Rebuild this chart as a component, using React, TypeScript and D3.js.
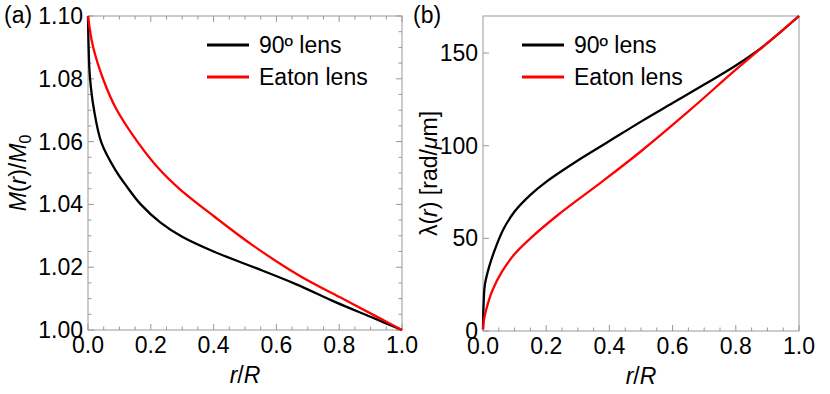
import React, { useEffect, useRef } from "react";
import * as d3 from "d3";

// x ticks shared by both panels
const rTicks = [0, 0.2, 0.4, 0.6, 0.8, 1.0];
const mTicks = [1.0, 1.02, 1.04, 1.06, 1.08, 1.1];
const lambdaTicks = [0, 50, 100, 150];

// panel (a): M(r)/M0
const mLens90R = [0, 0.002, 0.006, 0.019, 0.043, 0.087, 0.125, 0.168, 0.23, 0.3, 0.4, 0.52, 0.66, 0.79, 0.9, 1.0];
const mLens90 = [1.1, 1.09, 1.0807, 1.0702, 1.0596, 1.051, 1.0455, 1.04, 1.0343, 1.0297, 1.025, 1.0203, 1.0147, 1.0088, 1.0042, 1.0];
const mEatonR = [0, 0.015, 0.049, 0.091, 0.16, 0.228, 0.293, 0.4, 0.527, 0.675, 0.803, 0.93, 1.0];
const mEaton = [1.1, 1.0907, 1.0797, 1.0702, 1.0596, 1.0511, 1.0448, 1.0363, 1.0268, 1.0172, 1.0104, 1.0037, 1.0];

// panel (b): lambda(r)
const lamLens90R = [0, 0.002, 0.006, 0.02, 0.04, 0.065, 0.1, 0.15, 0.2, 0.3, 0.4, 0.5, 0.6, 0.7, 0.8, 0.886, 1.0];
const lamLens90 = [1, 15, 25, 35, 45, 55, 64.5, 73.5, 80.5, 92, 102.5, 113, 123, 133, 143.3, 153.5, 170];
const lamEatonR = [0, 0.003, 0.01, 0.03, 0.06, 0.1, 0.15, 0.24, 0.38, 0.5, 0.65, 0.8, 0.92, 1.0];
const lamEaton = [1, 6, 11.5, 22, 32, 41.5, 50, 63, 81, 97, 118.5, 141, 158.3, 170];

const seriesNames = ["90º lens", "Eaton lens"];
const seriesColors = ["#000000", "#ff0000"];

const FONT = "'Liberation Sans', Arial, Helvetica, sans-serif";
const FS = 23;
const FRAME = "#999999";

const App = () => {
  const svgRef = useRef<SVGSVGElement>(null);

  useEffect(() => {
    const svg = d3.select(svgRef.current);
    svg.selectAll("*").remove();
    svg.style("font-family", FONT);

    const drawPanel = (opts: any) => {
      const { left, right, top, bottom, yDomain, yTicks, yMinorStep, yFmt, series, allTicks, legendX, legendY, tag, tagX, yLabel, yLabelX } = opts;
      const x = d3.scaleLinear().domain([0, 1]).range([left, right]);
      const y = d3.scaleLinear().domain(yDomain).range([bottom, top]);
      const g = svg.append("g");

      // frame
      g.append("rect")
        .attr("x", left).attr("y", top)
        .attr("width", right - left).attr("height", bottom - top)
        .attr("fill", "none").attr("stroke", FRAME).attr("stroke-width", 1);

      // x ticks (major + minor), pointing inward
      const xMinor = d3.range(0, 1.0001, 0.05);
      xMinor.forEach((v, i) => {
        const len = i % 4 === 0 ? 6 : 3.5;
        g.append("line").attr("x1", x(v)).attr("x2", x(v))
          .attr("y1", bottom).attr("y2", bottom - len)
          .attr("stroke", FRAME).attr("stroke-width", 1);
        if (allTicks) {
          g.append("line").attr("x1", x(v)).attr("x2", x(v))
            .attr("y1", top).attr("y2", top + len)
            .attr("stroke", FRAME).attr("stroke-width", 1);
        }
      });

      // y ticks
      const yMinor = yMinorStep ? d3.range(yDomain[0], yDomain[1] + 1e-9, yMinorStep) : yTicks;
      yMinor.forEach((v: number) => {
        const isMajor = yTicks.some((t: number) => Math.abs(t - v) < 1e-9);
        const len = isMajor ? 6 : 3.5;
        g.append("line").attr("x1", left).attr("x2", left + len)
          .attr("y1", y(v)).attr("y2", y(v))
          .attr("stroke", FRAME).attr("stroke-width", 1);
        if (allTicks) {
          g.append("line").attr("x1", right).attr("x2", right - len)
            .attr("y1", y(v)).attr("y2", y(v))
            .attr("stroke", FRAME).attr("stroke-width", 1);
        }
      });

      // tick labels
      rTicks.forEach(v => {
        g.append("text").attr("x", x(v)).attr("y", bottom + 23)
          .attr("text-anchor", "middle").style("font-size", FS + "px")
          .text(d3.format(".1f")(v));
      });
      yTicks.forEach((v: number) => {
        g.append("text").attr("x", left - 5).attr("y", y(v) + 8)
          .attr("text-anchor", "end").style("font-size", FS + "px")
          .text(yFmt(v));
      });

      // curves
      const line = d3.line<[number, number]>()
        .x(d => x(d[0])).y(d => y(d[1]))
        .curve(d3.curveCatmullRom.alpha(0.5));
      series.forEach((s: any, i: number) => {
        const pts: [number, number][] = s.r.map((r: number, j: number) => [r, s.v[j]]);
        g.append("path").attr("d", line(pts))
          .attr("fill", "none").attr("stroke", seriesColors[i])
          .attr("stroke-width", 2.3).attr("stroke-linejoin", "round");
      });

      // legend
      seriesNames.forEach((name, i) => {
        const ly = legendY + i * 32;
        g.append("line").attr("x1", legendX).attr("x2", legendX + 42)
          .attr("y1", ly).attr("y2", ly)
          .attr("stroke", seriesColors[i]).attr("stroke-width", 3);
        g.append("text").attr("x", legendX + 52).attr("y", ly + 8)
          .style("font-size", FS + "px").text(name);
      });

      // panel tag
      g.append("text").attr("x", tagX).attr("y", 23)
        .style("font-size", FS + "px").text(tag);

      // x label
      const xl = g.append("text").attr("x", (left + right) / 2).attr("y", bottom + 53)
        .attr("text-anchor", "middle").style("font-size", FS + "px");
      xl.append("tspan").style("font-style", "italic").text("r");
      xl.append("tspan").text("/");
      xl.append("tspan").style("font-style", "italic").text("R");

      // y label
      const yl = g.append("text")
        .attr("transform", `translate(${yLabelX},${(top + bottom) / 2}) rotate(-90)`)
        .attr("text-anchor", "middle").style("font-size", FS + "px");
      yLabel(yl);
    };

    drawPanel({
      left: 88, right: 402, top: 16, bottom: 330,
      yDomain: [1.0, 1.1], yTicks: mTicks, yMinorStep: 0.005,
      yFmt: d3.format(".2f"),
      series: [{ r: mLens90R, v: mLens90 }, { r: mEatonR, v: mEaton }],
      allTicks: true, legendX: 207, legendY: 45, tag: "(a)", tagX: 4,
      yLabelX: 26,
      yLabel: (t: any) => {
        t.append("tspan").style("font-style", "italic").text("M");
        t.append("tspan").text("(");
        t.append("tspan").style("font-style", "italic").text("r");
        t.append("tspan").text(")/");
        t.append("tspan").style("font-style", "italic").text("M");
        t.append("tspan").attr("dy", 5).style("font-size", "16px").text("0");
      },
    });

    drawPanel({
      left: 483, right: 799, top: 16, bottom: 331,
      yDomain: [0, 170], yTicks: lambdaTicks, yMinorStep: 0,
      yFmt: d3.format("d"),
      series: [{ r: lamLens90R, v: lamLens90 }, { r: lamEatonR, v: lamEaton }],
      allTicks: false, legendX: 522, legendY: 45, tag: "(b)", tagX: 413,
      yLabelX: 437,
      yLabel: (t: any) => {
        t.append("tspan").text("λ(");
        t.append("tspan").style("font-style", "italic").text("r");
        t.append("tspan").text(") [rad/");
        t.append("tspan").style("font-style", "italic").text("μ");
        t.append("tspan").text("m]");
      },
    });
  }, []);

  return (
    <div style={{ position: "absolute", left: 0, top: 0 }}>
      <svg ref={svgRef} width={830} height={394} style={{ display: "block", background: "#fff" }}></svg>
    </div>
  );
};

export default App;
